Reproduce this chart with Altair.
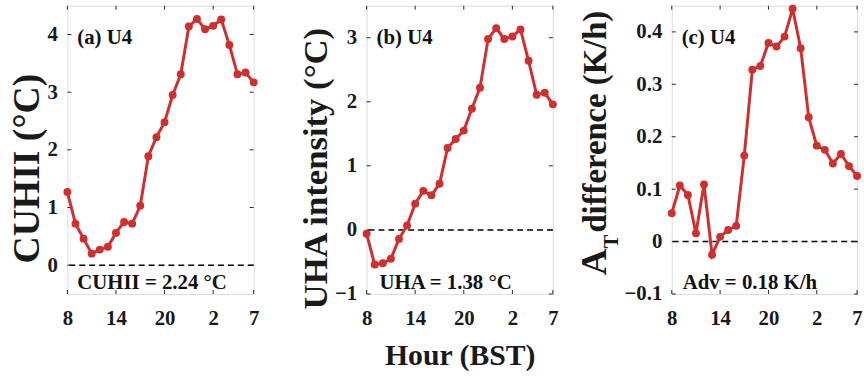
import altair as alt
import pandas as pd

# ---- data (hour index 0..23 corresponds to 08 BST .. 07 BST) ----
hour_idx = list(range(24))
cuhii = [1.27, 0.72, 0.46, 0.20, 0.27, 0.32, 0.56, 0.75, 0.72, 1.03, 1.89, 2.22,
         2.48, 2.95, 3.31, 4.14, 4.27, 4.09, 4.15, 4.26, 3.82, 3.31, 3.34, 3.17]
uha = [-0.06, -0.54, -0.52, -0.45, -0.14, 0.07, 0.41, 0.61, 0.54, 0.72, 1.28, 1.42,
       1.55, 1.89, 2.22, 2.98, 3.15, 2.98, 3.02, 3.13, 2.64, 2.11, 2.14, 1.96]
adv = [0.054, 0.107, 0.089, 0.016, 0.109, -0.025, 0.009, 0.022, 0.030, 0.164, 0.328, 0.335,
       0.379, 0.372, 0.391, 0.444, 0.369, 0.237, 0.183, 0.175, 0.149, 0.167, 0.144, 0.125]

x_tick_idx = [0, 6, 12, 18, 23]          # labels 8, 14, 20, 2, 7
yticks_a = [0, 1, 2, 3, 4]
yticks_b = [-1, 0, 1, 2, 3]
yticks_c = [-0.1, 0, 0.1, 0.2, 0.3, 0.4]

RED = "#CF2F2F"
FRAME = "#262626"
FONT = "Liberation Serif"
W, H = 188, 291


def panel(values, ydom, yticks, ytitle, ytsize, xtitle, label, annot, annot_dx, yfmt):
    xaxis = dict(values=x_tick_idx, labelExpr="(datum.value + 8) % 24",
                 ticks=False, domain=False, grid=False, labelPadding=14,
                 labelFont=FONT, labelFontWeight="bold", labelFontSize=21,
                 labelColor="#1a1a1a", labelFlush=False)
    if xtitle:
        xaxis.update(title=xtitle, titleFont=FONT, titleFontWeight="bold",
                     titleFontSize=30, titleColor="#1a1a1a", titlePadding=12)
    else:
        xaxis.update(title=None)
    yaxis = dict(values=yticks, ticks=False, domain=False, grid=False, labelPadding=10,
                 labelFont=FONT, labelFontWeight="bold", labelFontSize=21,
                 labelColor="#1a1a1a", format=yfmt)
    if ytitle:
        yaxis.update(title=ytitle, titleFont=FONT, titleFontWeight="bold",
                     titleFontSize=ytsize, titleColor="#1a1a1a", titlePadding=1,
                     titleY=164)
    else:
        yaxis.update(title=None)

    xenc = alt.X("x:Q", scale=alt.Scale(domain=[0, 23], nice=False, zero=False),
                 axis=alt.Axis(**xaxis))
    yenc = alt.Y("y:Q", scale=alt.Scale(domain=ydom, nice=False, zero=False),
                 axis=alt.Axis(**yaxis))

    df = pd.DataFrame({"x": hour_idx, "y": values})
    base = alt.Chart(df)
    line = base.mark_line(color=RED, strokeWidth=3).encode(x=xenc, y=yenc)
    pts = base.mark_circle(color=RED, size=64, opacity=1).encode(x=xenc, y=yenc)
    zero = alt.Chart(pd.DataFrame({"y": [0]})).mark_rule(
        color="black", strokeWidth=1.5, strokeDash=[6, 4]).encode(y=yenc)

    ydf = pd.DataFrame({"y": yticks})
    xdf = pd.DataFrame({"x": x_tick_idx})
    tl = alt.Chart(ydf).mark_rule(color=FRAME, strokeWidth=1).encode(
        y=yenc, x=alt.value(0), x2=alt.value(4))
    tr = alt.Chart(ydf).mark_rule(color=FRAME, strokeWidth=1).encode(
        y=yenc, x=alt.value(W - 4), x2=alt.value(W))
    tb = alt.Chart(xdf).mark_rule(color=FRAME, strokeWidth=1).encode(
        x=xenc, y=alt.value(H - 4), y2=alt.value(H))
    tt = alt.Chart(xdf).mark_rule(color=FRAME, strokeWidth=1).encode(
        x=xenc, y=alt.value(0), y2=alt.value(4))

    lab = alt.Chart(pd.DataFrame({"t": [label]})).mark_text(
        align="left", baseline="middle", font=FONT, fontWeight="bold",
        fontSize=21, color="#111").encode(
        x=alt.value(10), y=alt.value(33), text="t:N")
    ann = alt.Chart(pd.DataFrame({"t": [annot]})).mark_text(
        align="left", baseline="middle", font=FONT, fontWeight="bold",
        fontSize=21, color="#111").encode(
        x=alt.value(annot_dx), y=alt.value(H - 11), text="t:N")

    layers = [zero, tl, tr, tb, tt, line, pts, lab, ann]
    return layers


pa = alt.layer(*panel(cuhii, [-0.5, 4.5], yticks_a, "CUHII (°C)", 38, None,
                      "(a) U4", "CUHII = 2.24 °C", 10, "d")).properties(width=W, height=H)
pb = alt.layer(*panel(uha, [-1, 3.5], yticks_b, "UHA intensity (°C)", 35, "Hour (BST)",
                      "(b) U4", "UHA = 1.38 °C", 13, "d")).properties(width=W, height=H)

layers_c = panel(adv, [-0.1, 0.45], yticks_c, None, 35, None,
                 "(c) U4", "Adv = 0.18 K/h", 11, ".1~f")
tA = alt.Chart(pd.DataFrame({"t": ["A"]})).mark_text(
    align="left", baseline="alphabetic", angle=270, font=FONT, fontWeight="bold",
    fontSize=37, color="#1a1a1a").encode(x=alt.value(-66), y=alt.value(272), text="t:N")
tT = alt.Chart(pd.DataFrame({"t": ["T"]})).mark_text(
    align="left", baseline="alphabetic", angle=270, font=FONT, fontWeight="bold",
    fontSize=21, color="#1a1a1a").encode(x=alt.value(-54), y=alt.value(245), text="t:N")
tD = alt.Chart(pd.DataFrame({"t": ["difference (K/h)"]})).mark_text(
    align="left", baseline="alphabetic", angle=270, font=FONT, fontWeight="bold",
    fontSize=33, color="#1a1a1a").encode(x=alt.value(-66), y=alt.value(229), text="t:N")
pc = alt.layer(*(layers_c + [tA, tT, tD])).properties(width=187, height=H)

chart = alt.hconcat(
    alt.hconcat(pa, pb, spacing=38),
    pc, spacing=16
).properties(
    padding={"left": 8, "top": 0, "right": 0, "bottom": 0}
).configure_view(
    stroke=FRAME, strokeWidth=1
).configure(background="white")

chart.save("out.html", embed_options={"renderer": "svg", "actions": False})
